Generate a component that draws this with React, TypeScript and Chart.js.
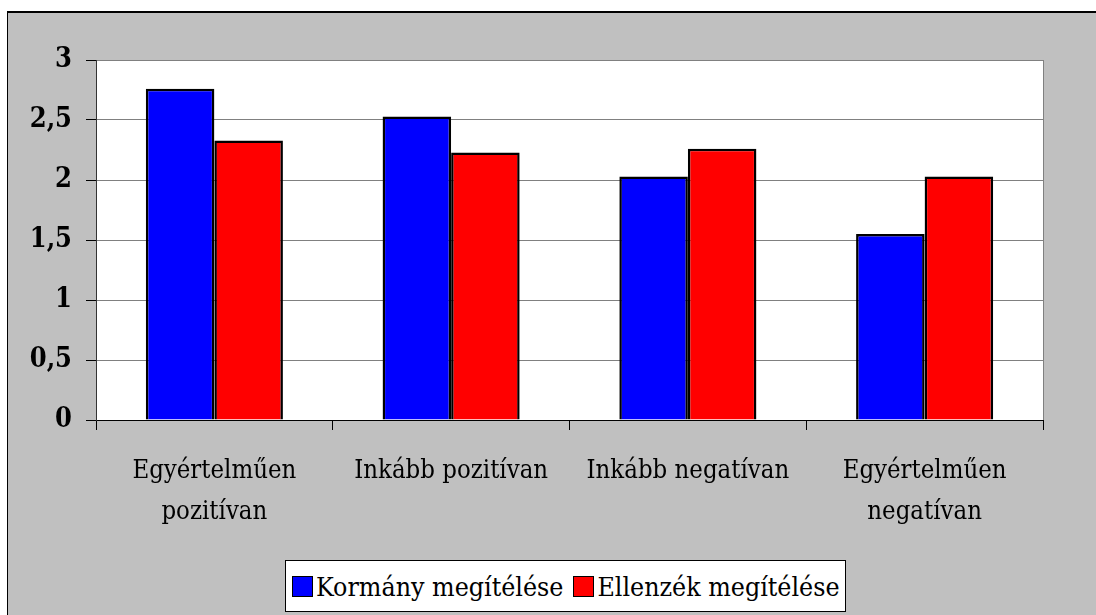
import React, { useEffect, useRef } from "react";
import { Chart, registerables } from "chart.js";

Chart.register(...registerables);

const categories: (string | string[])[] = [
  ["Egyértelműen", "pozitívan"],
  "Inkább pozitívan",
  "Inkább negatívan",
  ["Egyértelműen", "negatívan"],
];
const seriesNames = ["Kormány megítélése", "Ellenzék megítélése"];
const kormany = [2.76, 2.53, 2.03, 1.55];
const ellenzek = [2.33, 2.23, 2.26, 2.03];
const yTickValues = [0, 0.5, 1, 1.5, 2, 2.5, 3];
const seriesColors = ["#0000FF", "#FF0000"];

const FONT = "'DejaVu Serif Condensed', 'DejaVu Serif', serif";

const plotPlugin = {
  id: "plotDecor",
  beforeDraw(chart: any) {
    const { ctx, chartArea: a } = chart;
    ctx.save();
    ctx.fillStyle = "#FFFFFF";
    ctx.fillRect(a.left, a.top, a.right - a.left, a.bottom - a.top);
    ctx.restore();
  },
  afterDraw(chart: any) {
    const { ctx, chartArea: a } = chart;
    ctx.save();
    ctx.strokeStyle = "#808080";
    ctx.lineWidth = 1;
    ctx.beginPath();
    const x = Math.round(a.right) + 0.5;
    ctx.moveTo(x, a.top);
    ctx.lineTo(x, a.bottom);
    ctx.stroke();
    ctx.restore();
  },
};

export default function App() {
  const ref = useRef<HTMLCanvasElement | null>(null);

  useEffect(() => {
    if (!ref.current) return;
    const chart = new Chart(ref.current, {
      type: "bar",
      data: {
        labels: categories,
        datasets: [
          {
            label: seriesNames[0],
            data: kormany,
            backgroundColor: seriesColors[0],
            borderColor: "#000000",
            borderWidth: 2.5,
            categoryPercentage: 0.579,
            barPercentage: 1,
          },
          {
            label: seriesNames[1],
            data: ellenzek,
            backgroundColor: seriesColors[1],
            borderColor: "#000000",
            borderWidth: 2.5,
            categoryPercentage: 0.579,
            barPercentage: 1,
          },
        ],
      },
      options: {
        responsive: false,
        animation: false,
        devicePixelRatio: 1,
        layout: { padding: { left: 0, top: 60, right: 53, bottom: 0 } },
        plugins: {
          legend: { display: false },
          tooltip: { enabled: false },
          title: { display: false },
        },
        scales: {
          x: {
            afterFit: (s: any) => {
              s.height = 195;
            },
            grid: {
              offset: true,
              drawOnChartArea: false,
              drawTicks: true,
              tickLength: 10,
              color: "#000000",
              tickColor: "#000000",
            },
            border: { color: "#000000", width: 1 },
            ticks: {
              color: "#000000",
              font: { family: FONT, size: 25.5, lineHeight: 1.64 },
              padding: 20,
              maxRotation: 0,
              autoSkip: false,
            },
          },
          y: {
            min: 0,
            max: 3,
            afterFit: (s: any) => {
              s.width = 96;
            },
            afterBuildTicks: (s: any) => {
              s.ticks = yTickValues.map((v) => ({ value: v }));
            },
            grid: {
              color: "#808080",
              tickColor: "#000000",
              tickLength: 10,
              lineWidth: 1,
            },
            border: { color: "#333333", width: 1 },
            ticks: {
              color: "#000000",
              font: { family: FONT, size: 27, weight: "bold" },
              padding: 14,
              callback: (v: any) => String(v).replace(".", ","),
            },
          },
        },
      },
      plugins: [plotPlugin],
    });
    return () => chart.destroy();
  }, []);

  const legendItem = (name: string, color: string, ml: number) => (
    <div style={{ display: "flex", alignItems: "center", marginLeft: ml }}>
      <div
        style={{
          width: 21,
          height: 21,
          background: color,
          border: "1.5px solid #000",
          boxSizing: "border-box",
          marginRight: 3,
        }}
      />
      <span>{name}</span>
    </div>
  );

  return (
    <div
      style={{
        position: "fixed",
        left: 0,
        top: 0,
        width: 1096,
        height: 615,
        background: "#FFFFFF",
        overflow: "hidden",
      }}
    >
      <div
        style={{
          position: "absolute",
          left: 7,
          top: 11,
          width: 1200,
          height: 700,
          background: "#C0C0C0",
          borderLeft: "1px solid #000",
          borderTop: "2px solid #000",
        }}
      />
      <canvas
        ref={ref}
        width={1096}
        height={615}
        style={{ position: "absolute", left: 0, top: 0, width: 1096, height: 615 }}
      />
      <div
        style={{
          position: "absolute",
          left: 285,
          top: 560,
          width: 561,
          height: 52,
          boxSizing: "border-box",
          background: "#FFFFFF",
          border: "1px solid #000",
          display: "flex",
          alignItems: "center",
          fontFamily: FONT,
          fontSize: 26.5,
          color: "#000",
          whiteSpace: "nowrap",
        }}
      >
        {legendItem(seriesNames[0], seriesColors[0], 6)}
        {legendItem(seriesNames[1], seriesColors[1], 10)}
      </div>
    </div>
  );
}
